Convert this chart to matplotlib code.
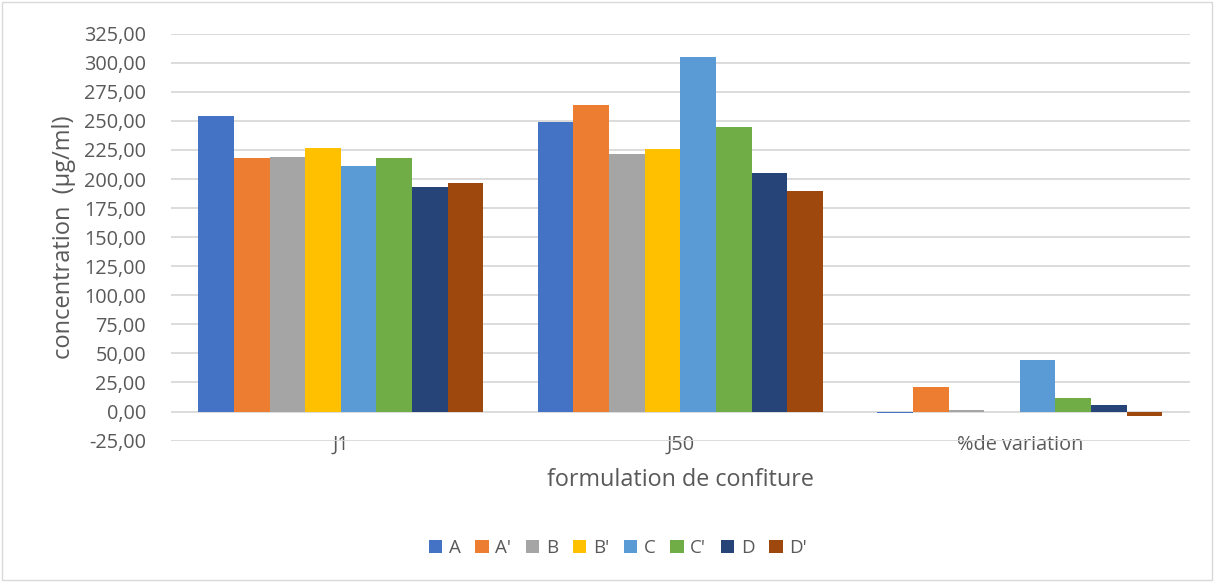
import numpy as np
import matplotlib.pyplot as plt
from matplotlib.patches import Rectangle

# groupes et formulations
groupes = ['J1', 'J50', '%de variation']
formulations = ['A', "A'", 'B', "B'", 'C', "C'", 'D', "D'"]
couleurs = ['#4472C4', '#ED7D31', '#A5A5A5', '#FFC000', '#5B9BD5', '#70AD47', '#264478', '#9E480E']

# concentrations (µg/ml) par formulation : J1, J50, %de variation
A = [254.0, 249.5, -1.5]
A_p = [218.0, 264.0, 21.0]
B = [219.0, 221.5, 1.0]
B_p = [227.0, 226.0, -0.5]
C = [211.0, 305.0, 44.0]
C_p = [218.0, 244.5, 12.0]
D = [193.5, 205.0, 6.0]
D_p = [197.0, 190.0, -3.5]
valeurs = [A, A_p, B, B_p, C, C_p, D, D_p]

plt.rcParams['font.family'] = ['Open Sans', 'DejaVu Sans']
gris = '#595959'

fig = plt.figure(figsize=(12.14, 5.82), dpi=100)
ax = fig.add_axes([0.1409, 0.243, 0.839, 0.699])

x = np.arange(len(groupes))
larg = 0.84 / len(formulations)
for i, (nom, v) in enumerate(zip(formulations, valeurs)):
    pos = x - 0.42 + larg * (i + 0.5)
    ax.bar(pos, v, width=larg, color=couleurs[i], label=nom,
           edgecolor='none', zorder=3)

ax.set_xlim(-0.5, 2.5)
ax.set_ylim(-25, 325)
ticks = np.arange(-25, 326, 25)
ax.set_yticks(ticks)
ax.set_yticklabels([f'{t:.2f}'.replace('.', ',') for t in ticks])
ax.set_xticks(x)
ax.set_xticklabels(groupes)
ax.grid(axis='y', color='#d9d9d9', linewidth=1.3, zorder=0)
for s in ax.spines.values():
    s.set_visible(False)
ax.tick_params(length=0, labelsize=14.3, colors=gris)
ax.tick_params(axis='x', pad=-4)
ax.tick_params(axis='y', pad=18)

ax.set_ylabel('concentration  (µg/ml)', fontsize=17, color=gris, labelpad=6)
ax.set_xlabel('formulation de confiture', fontsize=16.8, color=gris, labelpad=9)

leg = fig.legend(loc='center', bbox_to_anchor=(0.509, 0.058), ncol=8, frameon=False,
                 fontsize=13.5, handlelength=0.7, handleheight=0.7,
                 handletextpad=0.35, columnspacing=0.8)
for t in leg.get_texts():
    t.set_color(gris)

# cadre du graphique
fig.patches.append(Rectangle((0.002, 0.003), 0.996, 0.994, transform=fig.transFigure,
                             fill=False, edgecolor='#d9d9d9', linewidth=1))

fig.savefig('out.png', dpi=100)
